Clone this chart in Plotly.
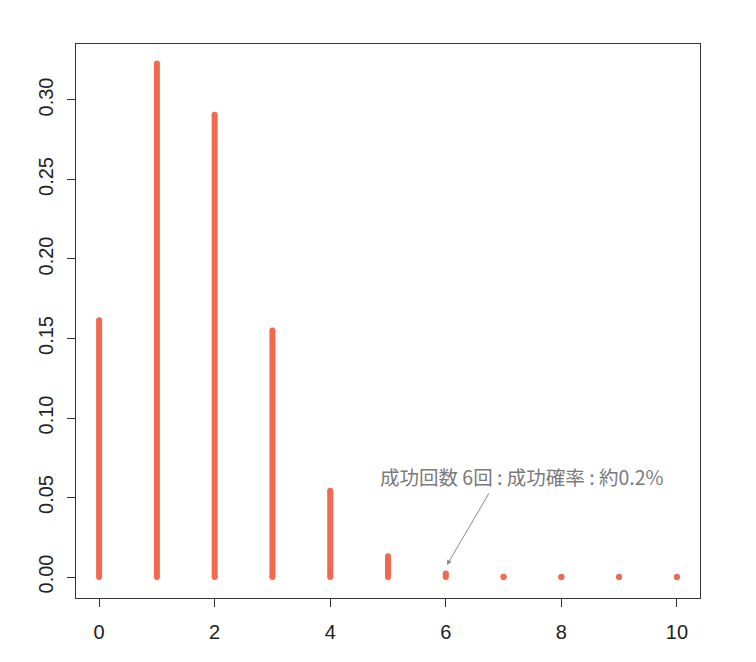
import plotly.graph_objects as go

# 成功回数と確率
kaisu = [0, 1, 2, 3, 4, 5, 6, 7, 8, 9, 10]
kakuritsu = [0.1615, 0.3230, 0.2907, 0.1550, 0.0543, 0.0130, 0.0022, 0.0002, 0.00002, 0.000001, 0.0]

x_ticks = [0, 2, 4, 6, 8, 10]
y_ticks = [0.00, 0.05, 0.10, 0.15, 0.20, 0.25, 0.30]

COR_BARRA = "#F2694F"
COR_TEXTO = "#222222"
COR_NOTA = "#7a7a7a"

# type="h" 風の縦線
xs, ys = [], []
for k, p in zip(kaisu, kakuritsu):
    xs += [k, k, None]
    ys += [0, p, None]

fig = go.Figure()
fig.add_trace(go.Scatter(
    x=xs, y=ys, mode="lines",
    line=dict(color=COR_BARRA, width=6),
    hoverinfo="skip", showlegend=False
))
# 端を丸く見せるための点
fig.add_trace(go.Scatter(
    x=kaisu + kaisu, y=[0] * len(kaisu) + kakuritsu, mode="markers",
    marker=dict(color=COR_BARRA, size=6),
    showlegend=False
))

fig.add_annotation(
    x=7.32, y=0.0635, xref="x", yref="y",
    text="成功回数 6回 : 成功確率 : 約0.2%",
    showarrow=False,
    font=dict(size=19.5, color=COR_NOTA, family="Noto Sans CJK JP, sans-serif")
)
fig.add_annotation(
    x=6.02, y=0.0075, xref="x", yref="y",
    ax=6.76, ay=0.0535, axref="x", ayref="y",
    text="", showarrow=True,
    arrowhead=2, arrowsize=1, arrowwidth=1, arrowcolor="#8a8a8a"
)

eixo = dict(
    showline=True, mirror=True, linecolor="#333333", linewidth=1,
    ticks="outside", ticklen=8, tickcolor="#333333",
    showgrid=False, zeroline=False,
    tickfont=dict(size=20, color=COR_TEXTO, family="Liberation Sans, Arial, sans-serif"),
)

fig.update_layout(
    width=756, height=662,
    template="plotly_white",
    paper_bgcolor="white", plot_bgcolor="white",
    margin=dict(l=68, r=64, t=36, b=72),
    xaxis=dict(range=[-0.4, 10.4], tickvals=x_ticks, ticklabelstandoff=8, **eixo),
    yaxis=dict(range=[-0.0132, 0.3352], tickvals=y_ticks,
               ticktext=[f"{v:.2f}" for v in y_ticks], tickangle=-90,
               ticklabelstandoff=6, **eixo),
)

fig.write_html("out.html")
